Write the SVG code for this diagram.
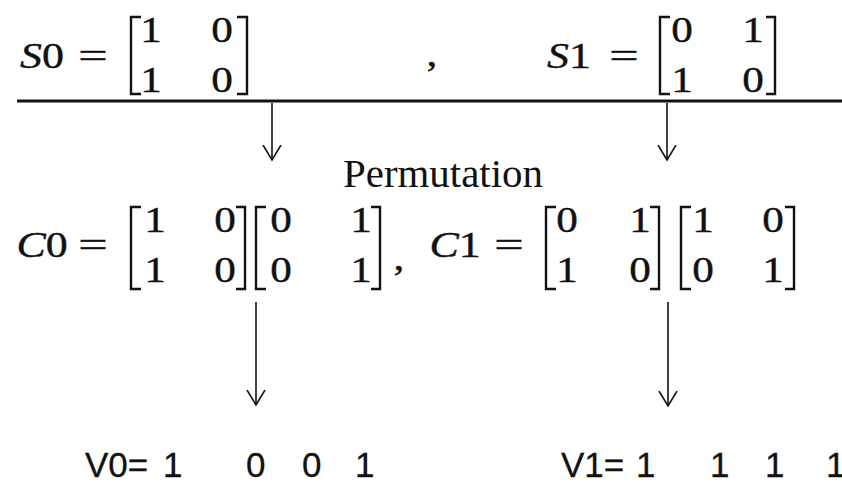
<svg xmlns="http://www.w3.org/2000/svg" width="842" height="483" viewBox="0 0 842 483">
<style>
.m{font-family:"Liberation Serif","Times New Roman",serif;font-size:36px;fill:#111;stroke:#111;stroke-width:0.4;text-anchor:middle}
.i{font-style:italic}
.p{font-family:"Liberation Serif","Times New Roman",serif;font-size:39px;fill:#111}
.br{fill:none;stroke:#111;stroke-width:2.4}
.s{font-family:"Liberation Sans",Arial,sans-serif;font-size:35px;fill:#111;stroke:#111;stroke-width:0.3}
.cn{stroke:#111;stroke-width:1.6;fill:none}
</style>
<defs>
<marker id="ah" markerUnits="userSpaceOnUse" markerWidth="20" markerHeight="22" refX="15" refY="10" orient="auto">
<path d="M0,1 L15,10 L0,19" fill="none" stroke="#111" stroke-width="1.6"/>
</marker>
</defs>
<rect width="842" height="483" fill="#fff"/>

<g id="s0">
<text class="m" transform="translate(42,68) scale(1.22,1)"><tspan class="i">S</tspan>0</text>
<text class="m" transform="translate(93,68) scale(1.45,1)">=</text>
<path class="br" d="M141,17 H131 V94 H141"/>
<text class="m" transform="translate(151,42) scale(1.2,1)">1</text>
<text class="m" transform="translate(222,42) scale(1.2,1)">0</text>
<text class="m" transform="translate(151,92) scale(1.2,1)">1</text>
<text class="m" transform="translate(222,92) scale(1.2,1)">0</text>
<path class="br" d="M237,17 H247 V94 H237"/>
</g>

<g id="sep">
<text class="m" transform="translate(432,66) scale(1.2,1)">,</text>
</g>

<g id="s1">
<text class="m" transform="translate(569,68) scale(1.22,1)"><tspan class="i">S</tspan>1</text>
<text class="m" transform="translate(624,68) scale(1.45,1)">=</text>
<path class="br" d="M670,17 H660 V94 H670"/>
<text class="m" transform="translate(682,42) scale(1.2,1)">0</text>
<text class="m" transform="translate(753,42) scale(1.2,1)">1</text>
<text class="m" transform="translate(682,92) scale(1.2,1)">1</text>
<text class="m" transform="translate(753,92) scale(1.2,1)">0</text>
<path class="br" d="M766,17 H775 V94 H766"/>
</g>

<g id="permutation">
<text class="p" x="343" y="187" textLength="200" lengthAdjust="spacingAndGlyphs">Permutation</text>
</g>

<g id="c0">
<text class="m" transform="translate(42,257) scale(1.22,1)"><tspan class="i">C</tspan>0</text>
<text class="m" transform="translate(93,257) scale(1.45,1)">=</text>
<path class="br" d="M141,207 H131 V289 H141"/>
<text class="m" transform="translate(155,232) scale(1.2,1)">1</text>
<text class="m" transform="translate(225,232) scale(1.2,1)">0</text>
<text class="m" transform="translate(155,282) scale(1.2,1)">1</text>
<text class="m" transform="translate(225,282) scale(1.2,1)">0</text>
<path class="br" d="M236,207 H245 V289 H236"/>
<path class="br" d="M266,207 H256 V289 H266"/>
<text class="m" transform="translate(281,232) scale(1.2,1)">0</text>
<text class="m" transform="translate(361,232) scale(1.2,1)">1</text>
<text class="m" transform="translate(281,282) scale(1.2,1)">0</text>
<text class="m" transform="translate(361,282) scale(1.2,1)">1</text>
<path class="br" d="M371,207 H380 V289 H371"/>
<text class="m" transform="translate(399,270) scale(1.2,1)">,</text>
</g>

<g id="c1">
<text class="m" transform="translate(455,257) scale(1.22,1)"><tspan class="i">C</tspan>1</text>
<text class="m" transform="translate(509,257) scale(1.45,1)">=</text>
<path class="br" d="M556,207 H546 V289 H556"/>
<text class="m" transform="translate(567,232) scale(1.2,1)">0</text>
<text class="m" transform="translate(640,232) scale(1.2,1)">1</text>
<text class="m" transform="translate(567,282) scale(1.2,1)">1</text>
<text class="m" transform="translate(640,282) scale(1.2,1)">0</text>
<path class="br" d="M650,207 H659 V289 H650"/>
<path class="br" d="M691,207 H681 V289 H691"/>
<text class="m" transform="translate(703,232) scale(1.2,1)">1</text>
<text class="m" transform="translate(773,232) scale(1.2,1)">0</text>
<text class="m" transform="translate(703,282) scale(1.2,1)">0</text>
<text class="m" transform="translate(773,282) scale(1.2,1)">1</text>
<path class="br" d="M785,207 H794 V289 H785"/>
</g>

<g id="v0">
<text class="s" x="85" y="477">V0=</text>
<text class="s" x="163" y="477" fill="#555" stroke="none">1</text>
<text class="s" x="246" y="477">0</text>
<text class="s" x="302" y="477">0</text>
<text class="s" x="355" y="477">1</text>
</g>

<g id="v1">
<text class="s" x="561" y="477">V1=</text>
<text class="s" x="636" y="477">1</text>
<text class="s" x="710" y="477">1</text>
<text class="s" x="765" y="477">1</text>
<text class="s" x="826" y="477">1</text>
</g>

<g id="connectors">
<line x1="17" y1="101" x2="842" y2="101" stroke="#111" stroke-width="3"/>
<line class="cn" x1="272" y1="103" x2="272" y2="160" marker-end="url(#ah)"/>
<line class="cn" x1="667" y1="103" x2="667" y2="160" marker-end="url(#ah)"/>
<line class="cn" x1="256" y1="302" x2="256" y2="405" marker-end="url(#ah)"/>
<line class="cn" x1="668" y1="302" x2="668" y2="406" marker-end="url(#ah)"/>
</g>
</svg>
